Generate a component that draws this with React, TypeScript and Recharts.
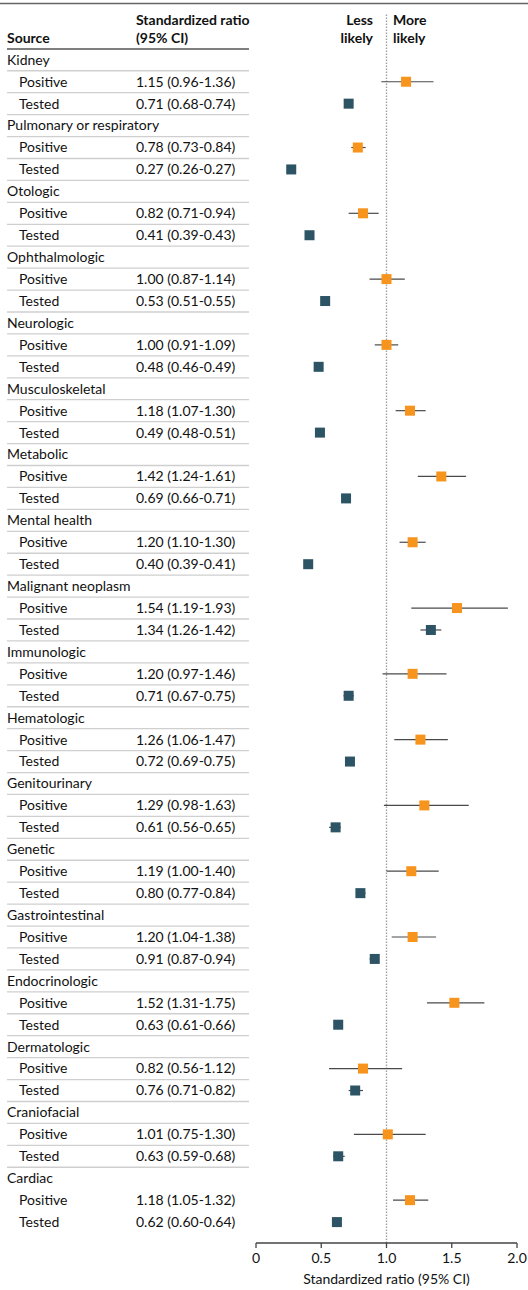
import { ScatterChart, Scatter, XAxis, YAxis, ErrorBar, ReferenceLine } from "recharts";

const sources = [
  "Kidney",
  "Pulmonary or respiratory",
  "Otologic",
  "Ophthalmologic",
  "Neurologic",
  "Musculoskeletal",
  "Metabolic",
  "Mental health",
  "Malignant neoplasm",
  "Immunologic",
  "Hematologic",
  "Genitourinary",
  "Genetic",
  "Gastrointestinal",
  "Endocrinologic",
  "Dermatologic",
  "Craniofacial",
  "Cardiac",
];

const positiveRatio = [1.15, 0.78, 0.82, 1.0, 1.0, 1.18, 1.42, 1.2, 1.54, 1.2, 1.26, 1.29, 1.19, 1.2, 1.52, 0.82, 1.01, 1.18];
const positiveLow = [0.96, 0.73, 0.71, 0.87, 0.91, 1.07, 1.24, 1.1, 1.19, 0.97, 1.06, 0.98, 1.0, 1.04, 1.31, 0.56, 0.75, 1.05];
const positiveHigh = [1.36, 0.84, 0.94, 1.14, 1.09, 1.3, 1.61, 1.3, 1.93, 1.46, 1.47, 1.63, 1.4, 1.38, 1.75, 1.12, 1.3, 1.32];

const testedRatio = [0.71, 0.27, 0.41, 0.53, 0.48, 0.49, 0.69, 0.4, 1.34, 0.71, 0.72, 0.61, 0.8, 0.91, 0.63, 0.76, 0.63, 0.62];
const testedLow = [0.68, 0.26, 0.39, 0.51, 0.46, 0.48, 0.66, 0.39, 1.26, 0.67, 0.69, 0.56, 0.77, 0.87, 0.61, 0.71, 0.59, 0.6];
const testedHigh = [0.74, 0.27, 0.43, 0.55, 0.49, 0.51, 0.71, 0.41, 1.42, 0.75, 0.75, 0.65, 0.84, 0.94, 0.66, 0.82, 0.68, 0.64];

const xTicks = [0, 0.5, 1, 1.5, 2];

const FONT = "Lato, 'Open Sans', sans-serif";
const ORANGE = "#F7941D";
const TEAL = "#2C5464";

// row geometry (data units are table rows)
const ROW0 = 59.8;
const STEP = 21.93;
const TOP = 14;
const BOTTOM = 1243;
const D0 = -(ROW0 - TOP) / STEP;
const D1 = D0 + (BOTTOM - TOP) / STEP;

const fmt = (r: number, lo: number, hi: number) =>
  `${r.toFixed(2)} (${lo.toFixed(2)}-${hi.toFixed(2)})`;

const tableRows = sources.flatMap((s, i) => [
  { kind: "cat", label: s, text: "", last: i === sources.length - 1 },
  { kind: "sub", label: "Positive", text: fmt(positiveRatio[i], positiveLow[i], positiveHigh[i]), last: i === sources.length - 1 },
  { kind: "sub", label: "Tested", text: fmt(testedRatio[i], testedLow[i], testedHigh[i]), last: i === sources.length - 1 },
]);

const positiveData = sources.map((s, i) => ({
  source: s,
  row: i * 3 + 1,
  ratio: positiveRatio[i],
  err: [positiveRatio[i] - positiveLow[i], positiveHigh[i] - positiveRatio[i]],
}));

const testedData = sources.map((s, i) => ({
  source: s,
  row: i * 3 + 2,
  ratio: testedRatio[i],
  err: [testedRatio[i] - testedLow[i], testedHigh[i] - testedRatio[i]],
}));

const rowTicks = tableRows.map((_, i) => i);

function RowTick(props: any) {
  const { y, payload } = props;
  const r = tableRows[payload.value];
  if (!r) return null;
  return (
    <g>
      <text
        x={r.kind === "cat" ? 7 : 19}
        y={y}
        dy="0.35em"
        fontSize={14}
        fontFamily={FONT}
        fill="#111"
      >
        {r.label}
      </text>
      {r.text && (
        <text x={136} y={y} dy="0.35em" fontSize={14} fontFamily={FONT} fill="#111">
          {r.text}
        </text>
      )}
      {!r.last && (
        <line x1={7} x2={249} y1={y + STEP / 2} y2={y + STEP / 2} stroke="#cfcfcf" strokeWidth={1.3} />
      )}
    </g>
  );
}

const square = (color: string) => (props: any) => {
  const { cx, cy } = props;
  return <rect x={cx - 5} y={cy - 5} width={10} height={10} fill={color} />;
};

export default function App() {
  return (
    <div style={{ position: "absolute", left: 0, top: 0, width: 528, height: 1290 }}>
      <ScatterChart
        width={528}
        height={1290}
        margin={{ top: TOP, right: 11, left: 0, bottom: 0 }}
      >
        <XAxis
          type="number"
          dataKey="ratio"
          domain={[0, 2]}
          ticks={xTicks}
          allowDataOverflow
          height={47}
          tickFormatter={(v: number) => (v === 0 ? "0" : v.toFixed(1))}
          tick={{ fontSize: 14, fontFamily: FONT, fill: "#111" }}
          axisLine={{ stroke: "#444", strokeWidth: 1.3 }}
          tickLine={{ stroke: "#444", strokeWidth: 1.3 }}
          tickSize={5}
          tickMargin={5}
          label={{
            value: "Standardized ratio (95% CI)",
            position: "insideBottom",
            offset: 6,
            fontSize: 14,
            fontFamily: FONT,
            fill: "#111",
          }}
        />
        <YAxis
          type="number"
          dataKey="row"
          domain={[D0, D1]}
          allowDataOverflow
          reversed
          ticks={rowTicks}
          interval={0}
          width={256}
          axisLine={false}
          tickLine={false}
          tick={<RowTick />}
        />
        <ReferenceLine x={1} stroke="#a0a0a0" strokeWidth={1.4} strokeDasharray="1.5 1.5" />
        <Scatter data={positiveData} shape={square(ORANGE)} isAnimationActive={false}>
          <ErrorBar dataKey="err" direction="x" width={0} stroke="#4a4a4a" strokeWidth={1.2} />
        </Scatter>
        <Scatter data={testedData} shape={square(TEAL)} isAnimationActive={false}>
          <ErrorBar dataKey="err" direction="x" width={0} stroke="#4a4a4a" strokeWidth={1.2} />
        </Scatter>
      </ScatterChart>
      <svg
        width={528}
        height={60}
        style={{ position: "absolute", left: 0, top: 0, pointerEvents: "none" }}
      >
        <line x1={0} x2={528} y1={3.5} y2={3.5} stroke="#666" strokeWidth={1.3} />
        <g fontFamily={FONT} fontSize={14} fontWeight={700} fill="#111">
          <text x={7} y={43}>Source</text>
          <text x={136} y={25}>Standardized ratio</text>
          <text x={136} y={43}>(95% CI)</text>
          <text x={373} y={25} textAnchor="end">Less</text>
          <text x={373} y={43} textAnchor="end">likely</text>
          <text x={393} y={25}>More</text>
          <text x={393} y={43}>likely</text>
        </g>
        <line x1={7} x2={249} y1={49} y2={49} stroke="#555" strokeWidth={1.5} />
      </svg>
    </div>
  );
}
